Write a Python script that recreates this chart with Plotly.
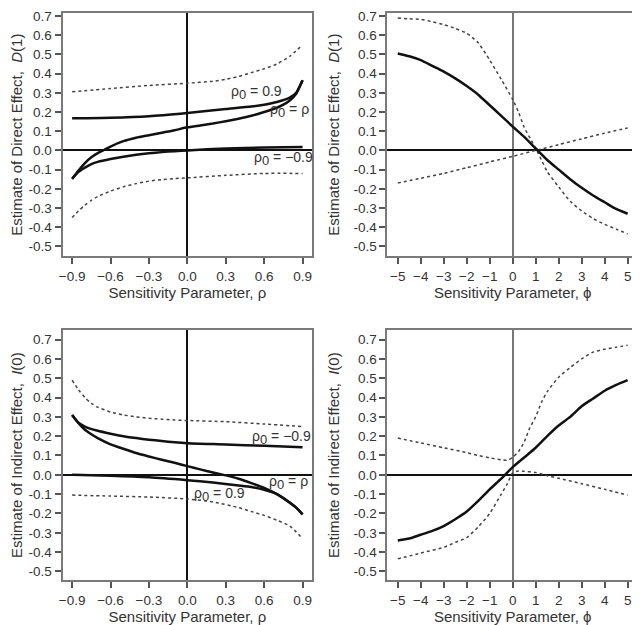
import plotly.graph_objects as go

# ---- data ----
# top-left: direct effect vs rho
rho_a = [-0.9, -0.85, -0.8, -0.75, -0.7, -0.65, -0.6, -0.5, -0.4, -0.3, -0.2, -0.1,
         0.0, 0.1, 0.2, 0.3, 0.4, 0.5, 0.6, 0.7, 0.75, 0.8, 0.85, 0.9]
d1_rho0_eq_rho = [-0.148, -0.105, -0.066, -0.036, -0.014, 0.002, 0.02, 0.048, 0.066, 0.079, 0.092, 0.105,
                  0.12, 0.13, 0.14, 0.152, 0.165, 0.18, 0.2, 0.222, 0.238, 0.26, 0.295, 0.365]
rho_b = [-0.9, -0.6, -0.3, 0.0, 0.3, 0.5, 0.6, 0.7, 0.8, 0.85, 0.9]
d1_rho0_pos = [0.167, 0.17, 0.178, 0.195, 0.215, 0.228, 0.238, 0.252, 0.275, 0.3, 0.365]
rho_c = [-0.9, -0.85, -0.8, -0.75, -0.7, -0.6, -0.5, -0.4, -0.3, -0.2, -0.1, 0.0, 0.3, 0.6, 0.9]
d1_rho0_neg = [-0.148, -0.112, -0.09, -0.072, -0.06, -0.045, -0.033, -0.023, -0.015, -0.009, -0.004,
               0.0, 0.01, 0.015, 0.018]
rho_d = [-0.9, -0.6, -0.3, 0.0, 0.2, 0.3, 0.4, 0.5, 0.6, 0.7, 0.8, 0.9]
d1_upper = [0.305, 0.322, 0.338, 0.35, 0.36, 0.37, 0.385, 0.405, 0.425, 0.45, 0.49, 0.55]
d1_lower = [-0.35, -0.315, -0.285, -0.26, -0.24, -0.212, -0.19, -0.173, -0.16, -0.152, -0.147,
            -0.143, -0.13, -0.12, -0.12]

# top-right: direct effect vs phi
phi_a = [-5, -4.5, -4, -3.5, -3, -2.5, -2, -1.5, -1, -0.5, 0, 0.5, 1, 1.5, 2, 2.5, 3, 3.5, 4, 4.5, 5]
d1_phi = [0.505, 0.49, 0.47, 0.44, 0.41, 0.375, 0.335, 0.29, 0.235, 0.18, 0.124, 0.07, 0.01,
          -0.05, -0.1, -0.15, -0.195, -0.235, -0.27, -0.305, -0.33]
phi_b = [-5, -4.5, -4, -3.5, -3, -2.5, -2, -1.5, -1, -0.5, 0, 0.25, 0.5, 0.75, 1, 1.25, 1.5,
         2, 2.5, 3, 3.5, 4, 4.5, 5]
d1_phi_upper = [0.69, 0.685, 0.682, 0.67, 0.655, 0.635, 0.61, 0.56, 0.47, 0.37, 0.265, 0.2, 0.12,
                0.065, 0.01, -0.05, -0.11, -0.19, -0.265, -0.315, -0.355, -0.385, -0.41, -0.435]
phi_c = [-5, -4, -3, -2, -1, 0, 1, 2, 3, 4, 5]
d1_phi_lower = [-0.17, -0.145, -0.12, -0.09, -0.06, -0.031, 0.0, 0.03, 0.06, 0.09, 0.117]

# bottom-left: indirect effect vs rho
rho_e = [-0.9, -0.85, -0.8, -0.75, -0.7, -0.6, -0.5, -0.4, -0.3, -0.2, -0.1, 0.0, 0.3, 0.6, 0.9]
i0_upper = [0.49, 0.44, 0.4, 0.37, 0.35, 0.325, 0.31, 0.3, 0.293, 0.288, 0.284, 0.281, 0.275, 0.263, 0.25]
rho_f = [-0.9, -0.85, -0.8, -0.7, -0.6, -0.5, -0.4, -0.3, -0.2, -0.1, 0.0, 0.3, 0.6, 0.9]
i0_rho0_neg = [0.31, 0.27, 0.25, 0.228, 0.213, 0.2, 0.19, 0.182, 0.175, 0.168, 0.163, 0.157, 0.15, 0.143]
rho_g = [-0.9, -0.85, -0.8, -0.75, -0.7, -0.6, -0.5, -0.4, -0.3, -0.2, -0.1, 0.0, 0.1, 0.2,
         0.3, 0.4, 0.5, 0.6, 0.7, 0.8, 0.85, 0.9]
i0_rho0_eq_rho = [0.31, 0.267, 0.233, 0.21, 0.19, 0.158, 0.135, 0.113, 0.095, 0.078, 0.062, 0.045,
                  0.028, 0.012, -0.003, -0.02, -0.043, -0.068, -0.1, -0.143, -0.17, -0.205]
rho_h = [-0.9, -0.6, -0.3, 0.0, 0.2, 0.4, 0.5, 0.6, 0.7, 0.8, 0.85, 0.9]
i0_rho0_pos = [0.0, -0.005, -0.013, -0.028, -0.04, -0.055, -0.063, -0.077, -0.1, -0.145, -0.17, -0.205]
rho_i = [-0.9, -0.6, -0.3, 0.0, 0.2, 0.4, 0.5, 0.6, 0.7, 0.8, 0.9]
i0_lower = [-0.105, -0.11, -0.115, -0.125, -0.14, -0.17, -0.19, -0.21, -0.235, -0.265, -0.33]

# bottom-right: indirect effect vs phi
i0_phi = [-0.34, -0.33, -0.31, -0.29, -0.265, -0.23, -0.19, -0.135, -0.075, -0.02, 0.04, 0.09,
          0.14, 0.2, 0.255, 0.3, 0.355, 0.395, 0.435, 0.465, 0.49]
phi_d = [-5, -4, -3, -2, -1.5, -1, -0.5, -0.25, 0, 0.25, 0.5, 0.75, 1, 1.25, 1.5, 2, 2.5, 3,
         3.5, 4, 4.5, 5]
i0_phi_upper = [0.19, 0.165, 0.14, 0.115, 0.1, 0.088, 0.078, 0.075, 0.09, 0.12, 0.17, 0.245,
                0.3, 0.375, 0.43, 0.505, 0.555, 0.6, 0.635, 0.65, 0.66, 0.67]
phi_e = [-5, -4, -3, -2.5, -2, -1.5, -1, -0.5, -0.25, 0, 0.25, 0.5, 1, 1.5, 2, 3, 4, 5]
i0_phi_lower = [-0.435, -0.405, -0.375, -0.35, -0.325, -0.27, -0.2, -0.1, -0.05, 0.01, 0.02,
                0.018, 0.012, -0.005, -0.018, -0.046, -0.075, -0.105]

# ticks
y_ticks = [-0.5, -0.4, -0.3, -0.2, -0.1, 0.0, 0.1, 0.2, 0.3, 0.4, 0.5, 0.6, 0.7]
y_labels = ["-0.5", "-0.4", "-0.3", "-0.2", "-0.1", "0.0", "0.1", "0.2", "0.3", "0.4", "0.5", "0.6", "0.7"]
rho_ticks = [-0.9, -0.6, -0.3, 0.0, 0.3, 0.6, 0.9]
rho_labels = ["\u22120.9", "\u22120.6", "\u22120.3", "0.0", "0.3", "0.6", "0.9"]
phi_ticks = [-5, -4, -3, -2, -1, 0, 1, 2, 3, 4, 5]
phi_labels = ["\u22125", "\u22124", "\u22123", "\u22122", "\u22121", "0", "1", "2", "3", "4", "5"]

SOLID = dict(color="#111111", width=2.5, shape="spline", smoothing=0.6)
DOT = dict(color="#444444", width=1.5, dash="dot", shape="spline", smoothing=0.6)

fig = go.Figure()

def add(x, y, line, ax):
    fig.add_trace(go.Scatter(x=x, y=y, mode="lines", line=line, showlegend=False,
                             hoverinfo="skip", xaxis="x" + ax, yaxis="y" + ax))

# top-left (axes 1)
add(rho_d, d1_upper, DOT, "")
add(rho_c, d1_lower, DOT, "")
add(rho_b, d1_rho0_pos, SOLID, "")
add(rho_a, d1_rho0_eq_rho, SOLID, "")
add(rho_c, d1_rho0_neg, SOLID, "")
# top-right (axes 2)
add(phi_b, d1_phi_upper, DOT, "2")
add(phi_c, d1_phi_lower, DOT, "2")
add(phi_a, d1_phi, SOLID, "2")
# bottom-left (axes 3)
add(rho_e, i0_upper, DOT, "3")
add(rho_i, i0_lower, DOT, "3")
add(rho_f, i0_rho0_neg, SOLID, "3")
add(rho_g, i0_rho0_eq_rho, SOLID, "3")
add(rho_h, i0_rho0_pos, SOLID, "3")
# bottom-right (axes 4)
add(phi_d, i0_phi_upper, DOT, "4")
add(phi_e, i0_phi_lower, DOT, "4")
add(phi_a, i0_phi, SOLID, "4")

FONT = "Liberation Sans, Arial, sans-serif"
TXT = "#333333"

def xax(dom, anchor, ticks, labels, rng, title, zcolor):
    return dict(domain=dom, anchor=anchor, range=rng, tickvals=ticks, ticktext=labels,
                showgrid=False, zeroline=True, zerolinecolor=zcolor, zerolinewidth=1.5,
                showline=True, mirror=True, linecolor="#7a7a7a", linewidth=2,
                ticks="outside", ticklen=6, tickwidth=1.5, tickcolor="#555555",
                tickfont=dict(size=13.5, color=TXT, family=FONT), ticklabeloverflow="allow",
                title=dict(text=title, font=dict(size=15, color=TXT, family=FONT), standoff=5))

def yax(dom, anchor, rng, title):
    return dict(domain=dom, anchor=anchor, range=rng, tickvals=y_ticks, ticktext=y_labels,
                showgrid=False, zeroline=True, zerolinecolor="#111111", zerolinewidth=1.5,
                showline=True, mirror=True, linecolor="#7a7a7a", linewidth=2,
                ticks="outside", ticklen=6, tickwidth=1.5, tickcolor="#555555",
                tickfont=dict(size=13.5, color=TXT, family=FONT), ticklabeloverflow="allow",
                title=dict(text=title, font=dict(size=15, color=TXT, family=FONT), standoff=10))

# the page sits 8px in from the window corner, so the figure is sized to end at the window edge
LX = [0.0775, 0.4763]
RX = [0.5965, 0.9968]
TY = [0.6013, 0.9984]
BY = [0.0729, 0.4814]
TOP_RANGE = [-0.552, 0.7155]
BOT_RANGE = [-0.546, 0.75]
t_rho = "Sensitivity Parameter, \u03c1"
t_phi = "Sensitivity Parameter, \u03d5"
t_d = "Estimate of Direct Effect,\u00a0\u00a0<i>D</i>(1)"
t_i = "Estimate of Indirect Effect,\u00a0\u00a0<i>I</i>(0)"

fig.update_layout(
    width=632, height=617,
    margin=dict(l=0, r=0, t=0, b=0),
    plot_bgcolor="white", paper_bgcolor="white",
    xaxis=xax(LX, "y", rho_ticks, rho_labels, [-0.975, 0.975], t_rho, "#111111"),
    yaxis=yax(TY, "x", TOP_RANGE, t_d),
    xaxis2=xax(RX, "y2", phi_ticks, phi_labels, [-5.45, 5.45], t_phi, "#777777"),
    yaxis2=yax(TY, "x2", TOP_RANGE, t_d),
    xaxis3=xax(LX, "y3", rho_ticks, rho_labels, [-0.975, 0.975], t_rho, "#111111"),
    yaxis3=yax(BY, "x3", BOT_RANGE, t_i),
    xaxis4=xax(RX, "y4", phi_ticks, phi_labels, [-5.45, 5.45], t_phi, "#777777"),
    yaxis4=yax(BY, "x4", BOT_RANGE, t_i),
)

# curve labels
sub0 = "\u03c1<sub><span style='font-size:13px'>0</span></sub>"
labels = [
    ("x", "y", 0.54, 0.30, sub0 + " = 0.9"),
    ("x", "y", 0.80, 0.208, sub0 + " = \u03c1"),
    ("x", "y", 0.75, -0.043, sub0 + " = \u22120.9"),
    ("x3", "y3", 0.735, 0.191, sub0 + " = \u22120.9"),
    ("x3", "y3", 0.79, -0.04, sub0 + " = \u03c1"),
    ("x3", "y3", 0.25, -0.104, sub0 + " = 0.9"),
]
for xr, yr, xv, yv, txt in labels:
    fig.add_annotation(xref=xr, yref=yr, x=xv, y=yv, text=txt, showarrow=False,
                       font=dict(size=14, color=TXT, family=FONT), bgcolor="rgba(0,0,0,0)")

fig.write_html("out.html")
